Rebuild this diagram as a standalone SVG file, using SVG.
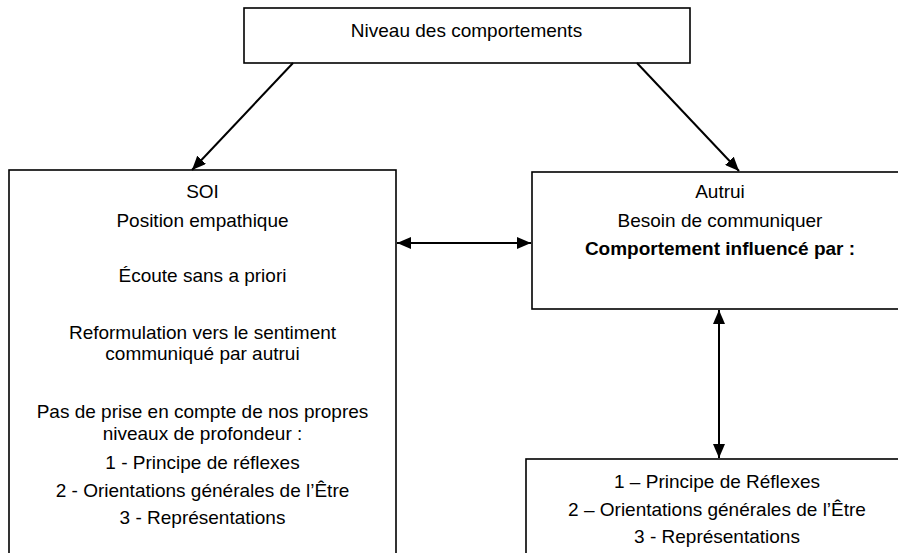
<svg xmlns="http://www.w3.org/2000/svg" width="898" height="553" viewBox="0 0 898 553">
<style>
.box{fill:#fff;stroke:#000;stroke-width:1.6}
.t{font-family:"Liberation Sans",Arial,sans-serif;font-size:19px;fill:#000;text-anchor:middle}
.b{font-weight:bold}
.c{stroke:#000;stroke-width:2;fill:none}
</style>
<defs>
<marker id="ah" viewBox="0 0 14 12" refX="14" refY="6" markerWidth="14" markerHeight="12" markerUnits="userSpaceOnUse" orient="auto-start-reverse">
<path d="M0,0 L14,6 L0,12 z" fill="#000"/>
</marker>
</defs>
<rect width="898" height="553" fill="#fff"/>
<g id="top">
<rect class="box" x="244" y="8" width="446" height="55"/>
<text class="t" x="466.5" y="37">Niveau des comportements</text>
</g>
<g id="soi">
<rect class="box" x="9" y="170" width="387" height="400"/>
<text class="t" x="202.5" y="198">SOI</text>
<text class="t" x="202.5" y="227">Position empathique</text>
<text class="t" x="202.5" y="282">Écoute sans a priori</text>
<text class="t" x="202.5" y="339">Reformulation vers le sentiment</text>
<text class="t" x="202.5" y="360">communiqué par autrui</text>
<text class="t" x="202.5" y="418">Pas de prise en compte de nos propres</text>
<text class="t" x="202.5" y="440">niveaux de profondeur :</text>
<text class="t" x="202.5" y="469">1 - Principe de réflexes</text>
<text class="t" x="202.5" y="497">2 - Orientations générales de l’Être</text>
<text class="t" x="202.5" y="524">3 - Représentations</text>
</g>
<g id="autrui">
<rect class="box" x="532" y="172" width="380" height="137"/>
<text class="t" x="720" y="198">Autrui</text>
<text class="t" x="720" y="227">Besoin de communiquer</text>
<text class="t b" x="720" y="255">Comportement influencé par :</text>
</g>
<g id="niveaux">
<rect class="box" x="526" y="459" width="386" height="110"/>
<text class="t" x="717" y="488">1 – Principe de Réflexes</text>
<text class="t" x="717" y="516">2 – Orientations générales de l’Être</text>
<text class="t" x="717" y="543">3 - Représentations</text>
</g>
<g id="connectors">
<line class="c" x1="293" y1="63" x2="192" y2="170" marker-end="url(#ah)"/>
<line class="c" x1="637" y1="63" x2="739" y2="171" marker-end="url(#ah)"/>
<line class="c" x1="397" y1="243" x2="531" y2="243" marker-start="url(#ah)" marker-end="url(#ah)"/>
<line class="c" x1="719" y1="310" x2="719" y2="458" marker-start="url(#ah)" marker-end="url(#ah)"/>
</g>
</svg>
